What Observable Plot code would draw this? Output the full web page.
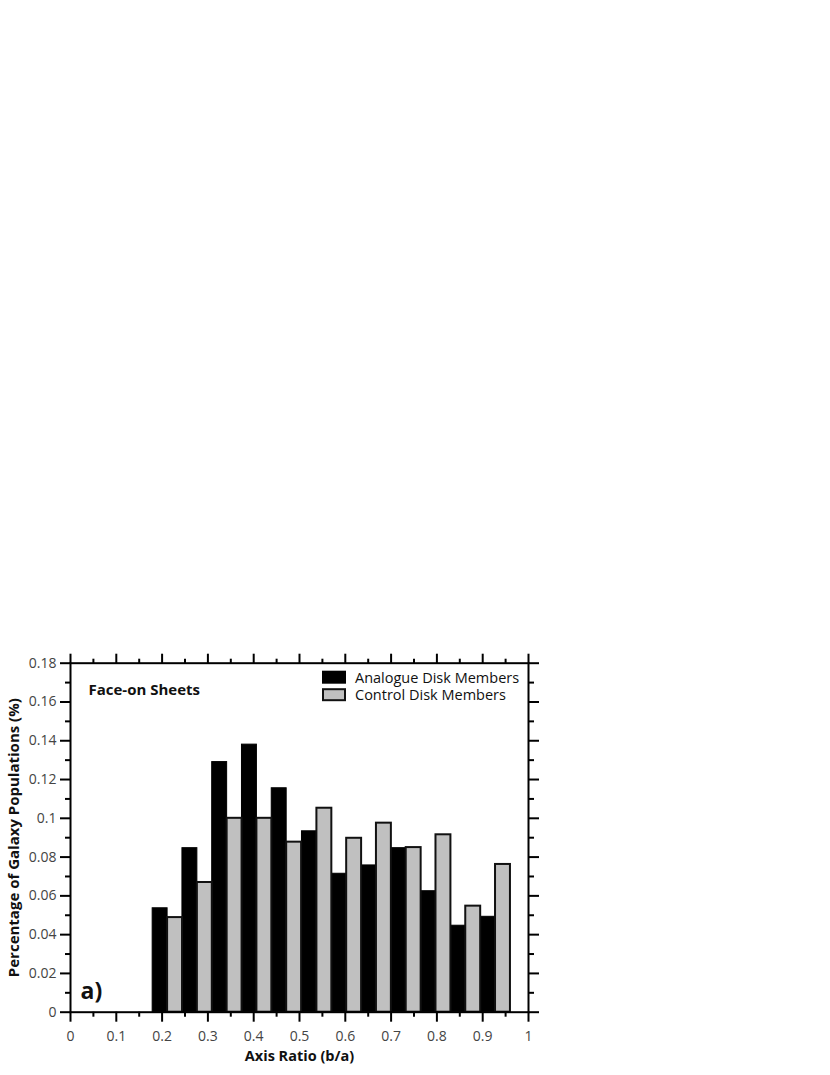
<!DOCTYPE html>
<html>
<head>
<meta charset="utf-8">
<script src="https://cdn.jsdelivr.net/npm/d3@7"></script>
<script src="https://cdn.jsdelivr.net/npm/@observablehq/plot@0.6"></script>
<style>
  html, body { margin: 0; padding: 0; background: #fff; }
  #chart svg { display: block; }
</style>
</head>
<body>
<div id="chart"></div>
<script>
// ---- data ----
const binCenters = [0.212, 0.277, 0.342, 0.407, 0.472, 0.538, 0.603, 0.668, 0.733, 0.798, 0.863, 0.928];
const analogue   = [0.0536, 0.0846, 0.129, 0.138, 0.1155, 0.0933, 0.0714, 0.0757, 0.0846, 0.0624, 0.0446, 0.0492];
const control    = [0.0488, 0.0669, 0.100, 0.100, 0.0877, 0.1052, 0.0897, 0.0975, 0.0849, 0.0915, 0.0547, 0.0762];
const seriesNames = ["Analogue Disk Members", "Control Disk Members"];
const xMajor = [0, 0.1, 0.2, 0.3, 0.4, 0.5, 0.6, 0.7, 0.8, 0.9, 1];
const xMinor = [0.05, 0.15, 0.25, 0.35, 0.45, 0.55, 0.65, 0.75, 0.85, 0.95];
const yMajor = [0, 0.02, 0.04, 0.06, 0.08, 0.1, 0.12, 0.14, 0.16, 0.18];
const yMinor = [0.01, 0.03, 0.05, 0.07, 0.09, 0.11, 0.13, 0.15, 0.17];
const titleText = "Face-on Sheets";
const panelText = "a)";
const xLabel = "Axis Ratio (b/a)";
const yLabel = "Percentage of Galaxy Populations (%)";

const barW = 0.0326;
const rowsA = binCenters.map((c, i) => ({x1: c - barW, x2: c, y: analogue[i]}));
const rowsC = binCenters.map((c, i) => ({x1: c, x2: c + barW, y: control[i]}));
const fmt = d => d === 0 ? "0" : String(+d.toFixed(2));

const FONT = "Open Sans, sans-serif";
const tickColor = "#444";

function legendMark(index, scales, values, dims) {
  const g = d3.create("svg:g")
    .attr("font-family", FONT).attr("font-size", 14.5)
    .attr("text-anchor", "start");
  const x0 = dims.width - dims.marginRight - 206;
  const y0 = dims.marginTop + 9;
  const items = [{fill: "#000", stroke: "#000"}, {fill: "#c0c0c0", stroke: "#111"}];
  items.forEach((it, i) => {
    g.append("rect")
      .attr("x", x0 + 1).attr("y", y0 + i * 17.5)
      .attr("width", 22).attr("height", 11)
      .attr("fill", it.fill).attr("stroke", it.stroke).attr("stroke-width", 2);
    g.append("text")
      .attr("x", x0 + 33).attr("y", y0 + i * 17.5 + 11)
      .attr("fill", "#111")
      .attr("text-anchor", "start")
      .text(seriesNames[i]);
  });
  return g.node();
}

const chart = Plot.plot({
  width: 830,
  height: 1075,
  marginTop: 662.7,
  marginLeft: 70,
  marginRight: 302,
  marginBottom: 63.3,
  style: {fontFamily: FONT, fontSize: "14px", background: "#fff"},
  x: {domain: [0, 1]},
  y: {domain: [0, 0.18]},
  marks: [
    Plot.rectY(rowsA, {x1: "x1", x2: "x2", y1: 0, y2: "y", fill: "#000", stroke: "#000", strokeWidth: 1}),
    Plot.rectY(rowsC, {x1: "x1", x2: "x2", y1: 0, y2: "y", fill: "#c0c0c0", stroke: "#111", strokeWidth: 2}),
    // bottom axis
    Plot.axisX({anchor: "bottom", ticks: xMajor, tickSize: 10, tickPadding: 9, tickFormat: fmt, label: null, fill: tickColor, fontSize: 14, strokeWidth: 2, stroke: "#000"}),
    Plot.axisX({anchor: "bottom", ticks: xMinor, tickSize: 5, text: null, label: null, strokeWidth: 2, stroke: "#000"}),
    // top axis
    Plot.axisX({anchor: "top", ticks: xMajor, tickSize: 10, text: null, label: null, strokeWidth: 2, stroke: "#000"}),
    Plot.axisX({anchor: "top", ticks: xMinor, tickSize: 5, text: null, label: null, strokeWidth: 2, stroke: "#000"}),
    // left axis
    Plot.axisY({anchor: "left", ticks: yMajor, tickSize: 10, tickPadding: 4, tickFormat: fmt, label: null, fill: tickColor, fontSize: 14, strokeWidth: 2, stroke: "#000"}),
    Plot.axisY({anchor: "left", ticks: yMinor, tickSize: 5, text: null, label: null, strokeWidth: 2, stroke: "#000"}),
    // right axis
    Plot.axisY({anchor: "right", ticks: yMajor, tickSize: 10, text: null, label: null, strokeWidth: 2, stroke: "#000"}),
    Plot.axisY({anchor: "right", ticks: yMinor, tickSize: 5, text: null, label: null, strokeWidth: 2, stroke: "#000"}),
    Plot.frame({stroke: "#000", strokeWidth: 2}),
    // texts
    Plot.text([titleText], {frameAnchor: "top-left", dx: 18, dy: 21, textAnchor: "start", fontWeight: "bold", fontSize: 15, fill: "#111"}),
    Plot.text([panelText], {frameAnchor: "bottom-left", dx: 10, dy: -13, textAnchor: "start", fontWeight: "bold", fontSize: 23, fill: "#111"}),
    Plot.text([xLabel], {frameAnchor: "bottom", dy: 49, textAnchor: "middle", fontWeight: "bold", fontSize: 14.5, fill: "#111"}),
    Plot.text([yLabel], {frameAnchor: "left", dx: -56, rotate: -90, textAnchor: "middle", fontWeight: "bold", fontSize: 15, fill: "#111"}),
    legendMark
  ]
});
document.getElementById("chart").appendChild(chart);
</script>
</body>
</html>
